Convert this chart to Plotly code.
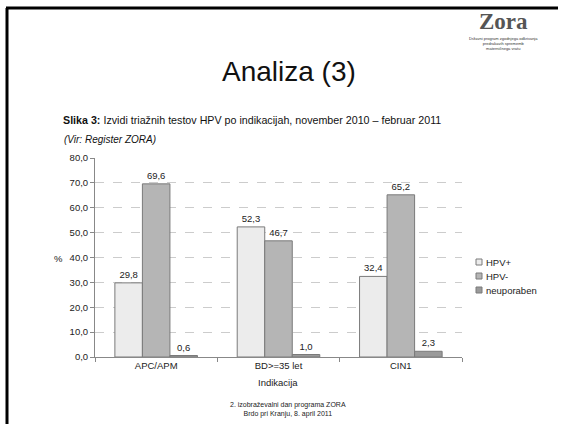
import plotly.graph_objects as go

categories = ["APC/APM", "BD>=35 let", "CIN1"]
hpv_pos = [29.8, 52.3, 32.4]
hpv_neg = [69.6, 46.7, 65.2]
neuporaben = [0.6, 1.0, 2.3]
series_names = ["HPV+", "HPV-", "neuporaben"]
series_colors = ["#ececec", "#b5b5b5", "#9a9a9a"]
y_ticks = [0, 10, 20, 30, 40, 50, 60, 70, 80]

W, H = 565, 424
L, R, T, B = 95, 462, 158, 357  # plot area in pixels


def px(x):
    return (x - L) / (R - L)


def py(y):
    return (B - y) / (B - T)


FONT = "Liberation Sans, Arial, sans-serif"

fig = go.Figure()
for name, vals, col in zip(series_names, [hpv_pos, hpv_neg, neuporaben], series_colors):
    fig.add_trace(go.Bar(
        x=categories, y=vals, name=name, showlegend=False,
        marker=dict(color=col, line=dict(color="#7a7a7a", width=1)),
        texttemplate="%{y:.1f}", textposition="outside",
        textfont=dict(size=9.5, color="#222", family=FONT),
        cliponaxis=False,
    ))

fig.update_layout(
    width=W, height=H,
    margin=dict(l=L, r=W - R, t=T, b=H - B, pad=0),
    paper_bgcolor="white", plot_bgcolor="white",
    separators=",.",
    barmode="group", bargap=0.325, bargroupgap=0,
    font=dict(family=FONT, size=9.5, color="#222"),
    xaxis=dict(showline=True, linecolor="#888", linewidth=1, ticks="outside",
               tickson="boundaries", ticklen=4, tickcolor="#888",
               tickfont=dict(size=9.5), showgrid=False),
    yaxis=dict(range=[0, 80], tickvals=y_ticks, tickformat=".1f",
               showline=True, linecolor="#888", linewidth=1, ticks="outside",
               ticklen=4, tickcolor="#888", tickfont=dict(size=9.5),
               showgrid=True, gridcolor="#cccccc", griddash="dash", gridwidth=1,
               zeroline=False),
)

# legend: small swatches with labels
for i, (name, col) in enumerate(zip(series_names, series_colors)):
    yc = 262 + 14 * i
    fig.add_shape(type="rect", xref="paper", yref="paper",
                  x0=px(476), x1=px(482), y0=py(yc + 3), y1=py(yc - 3),
                  fillcolor=col, line=dict(color="#7a7a7a", width=1))
    fig.add_annotation(xref="paper", yref="paper", x=px(484), y=py(yc), text=name,
                       xanchor="left", yanchor="middle", showarrow=False,
                       font=dict(size=9.5, color="#222"))

# slide frame
fig.add_shape(type="line", xref="paper", yref="paper",
              x0=px(7), x1=px(7), y0=py(8), y1=py(424), line=dict(color="black", width=3))
fig.add_shape(type="line", xref="paper", yref="paper",
              x0=px(6), x1=px(558), y0=py(8), y1=py(8), line=dict(color="black", width=3))

annotations = [
    dict(text="Analiza (3)", x=px(289), y=py(72), font=dict(size=28, color="#111")),
    dict(text="<b>Slika 3:</b> Izvidi triažnih testov HPV po indikacijah, november 2010 – februar 2011",
         x=px(61), y=py(120), xanchor="left", font=dict(size=10.7, color="#111")),
    dict(text="<i>(Vir: Register ZORA)</i>", x=px(62), y=py(139), xanchor="left",
         font=dict(size=10, color="#111")),
    dict(text="%", x=px(58), y=py(258), font=dict(size=9.5, color="#222")),
    dict(text="Indikacija", x=px(278), y=py(382), font=dict(size=9.5, color="#222")),
    dict(text="2. izobraževalni dan programa ZORA<br>Brdo pri Kranju, 8. april 2011",
         x=px(288), y=py(409), font=dict(size=7, color="#222")),
    dict(text="<b>Zora</b>", x=px(503), y=py(21), font=dict(size=23, color="#555",
                                                          family="Liberation Serif, serif")),
    dict(text="Državni program zgodnjega odkrivanja<br>predrakavih sprememb<br>materničnega vratu",
         x=px(503), y=py(44), font=dict(size=4, color="#333")),
]
for a in annotations:
    a.setdefault("xanchor", "center")
    fig.add_annotation(xref="paper", yref="paper", yanchor="middle", showarrow=False, **a)

fig.write_html("out.html")
